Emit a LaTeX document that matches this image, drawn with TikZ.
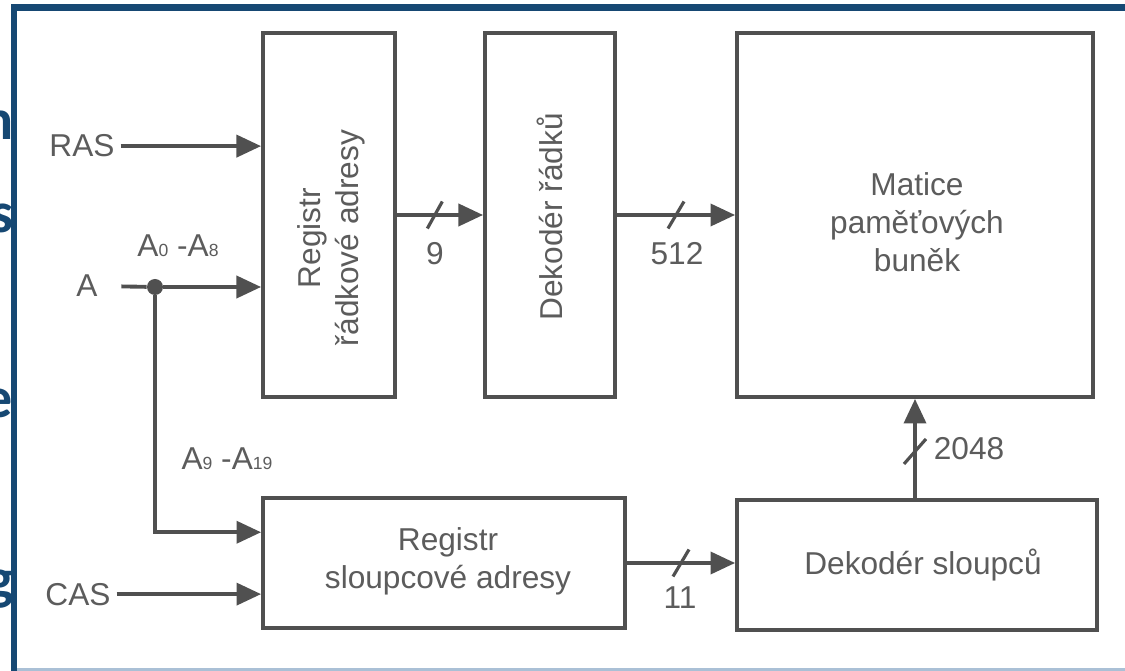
\documentclass[tikz,border=0pt]{standalone}
\usepackage{fontspec}
\setmainfont{Liberation Sans}
\newfontfamily\slidefont{Carlito}
\usepackage{xcolor}
\usepackage{tikz}
\usetikzlibrary{arrows.meta, positioning}
\definecolor{slideblue}{RGB}{22,72,115}
\definecolor{edgeblue}{RGB}{170,192,214}
\definecolor{linegray}{RGB}{80,80,80}
\definecolor{textgray}{RGB}{92,92,92}
\newcommand{\lo}[1]{{\fontsize{10}{10}\selectfont #1}}

\begin{document}
\begin{tikzpicture}[
  x=0.02cm, y=-0.02cm,
  >={Triangle[length=14pt, width=12.5pt]},
  sig/.style={draw=linegray, line width=2.2pt},
  block/.style={draw=linegray, line width=2.2pt, inner sep=0pt},
  txt/.style={text=textgray, font=\fontsize{18}{21.5}\selectfont, align=center},
  slash/.style={draw=linegray, line width=1.8pt},
  slide/.style={text=slideblue, font=\slidefont\bfseries\fontsize{33}{33}\selectfont, inner sep=0pt}
]
\useasboundingbox (0,0) rectangle (1125,671);
\fill[white] (0,0) rectangle (1125,671);

% ---- slide behind the picture ----
\begin{scope}
  \clip (0,0) rectangle (11,671);
  \node[slide, anchor=base east] (ltn) at (14,140) {n};
  \node[slide, anchor=base east] (lts) at (14,233) {s};
  \node[slide, anchor=base east] (lte) at (13,418) {e};
  \node[slide, anchor=base east] (ltg) at (14,598) {g};
\end{scope}
\fill[slideblue] (11,4) rectangle (1125,11);
\fill[slideblue] (11,4) rectangle (17,671);
\fill[edgeblue] (17,668) rectangle (1125,671);

% ---- blocks ----
\node[block, minimum width=2.64cm, minimum height=7.28cm] (reg1) at (329,215) {};
\node[block, minimum width=2.6cm, minimum height=7.28cm] (dec1) at (550,215) {};
\node[block, minimum width=7.12cm, minimum height=7.28cm] (mat) at (915,215) {};
\node[block, minimum width=7.24cm, minimum height=2.6cm] (reg2) at (444,563) {};
\node[block, minimum width=7.2cm, minimum height=2.6cm] (dec2) at (917,565) {};

\node[txt, rotate=90] (reg1txt) at (331,238) {Registr\\řádkové adresy};
\node[txt, rotate=90] (dec1txt) at (550,217) {Dekodér řádků};
\node[txt] (mattxt) at (917,222) {Matice\\paměťových\\buněk};
\node[txt] (reg2txt) at (448,561) {Registr\\sloupcové adresy};
\node[txt] (dec2txt) at (923,565) {Dekodér sloupců};

% ---- inputs ----
\node[txt, anchor=base] (ras) at (82,157) {RAS};
\node[txt, anchor=base] (ain) at (87,297) {A};
\node[txt, anchor=base] (cas) at (78,605) {CAS};
\node[circle, fill=linegray, inner sep=0pt, minimum size=0.32cm] (jn) at (155,287) {};
\node[txt, anchor=base] (alo) at (178,257) {A\lo{0} -A\lo{8}};
\node[txt, anchor=base] (ahi) at (227,470) {A\lo{9} -A\lo{19}};

\draw[sig, ->] (ras.east) -- (ras.east -| reg1.west);
\draw[sig, shorten <=10pt] (ain.east) -- (jn);
\draw[sig, ->] (jn) -- (jn -| reg1.west);
\draw[sig, ->] (jn) |- ([yshift=17.5pt]reg2.west);
\draw[sig, ->] (cas.east) -- (cas.east -| reg2.west);

% ---- buses ----
\draw[sig, ->] (reg1.east) -- coordinate[pos=0.44] (s9) (dec1.west);
\draw[sig, ->] (dec1.east) -- coordinate[pos=0.5] (s512) (dec1.east -| mat.west);
\draw[sig, ->] (reg2.east) -- coordinate[pos=0.5] (s11) (reg2.east -| dec2.west);
\draw[sig, ->] (mat.south |- dec2.north) -- coordinate[pos=0.47] (s2048) (mat.south);

\draw[slash] ([shift={(-7.5,13.5)}]s9) -- ([shift={(7.5,-13.5)}]s9);
\draw[slash] ([shift={(-8,13.5)}]s512) -- ([shift={(8,-13.5)}]s512);
\draw[slash] ([shift={(-8,13.5)}]s11) -- ([shift={(8,-13.5)}]s11);
\draw[slash] ([shift={(-11,12.5)}]s2048) -- ([shift={(11,-12.5)}]s2048);

\node[txt, anchor=base] (n9) at (435,265) {9};
\node[txt, anchor=base] (n512) at (677,265) {512};
\node[txt, anchor=base] (n11) at (680,608) {11};
\node[txt, anchor=base] (n2048) at (969,460) {2048};
\end{tikzpicture}
\end{document}
